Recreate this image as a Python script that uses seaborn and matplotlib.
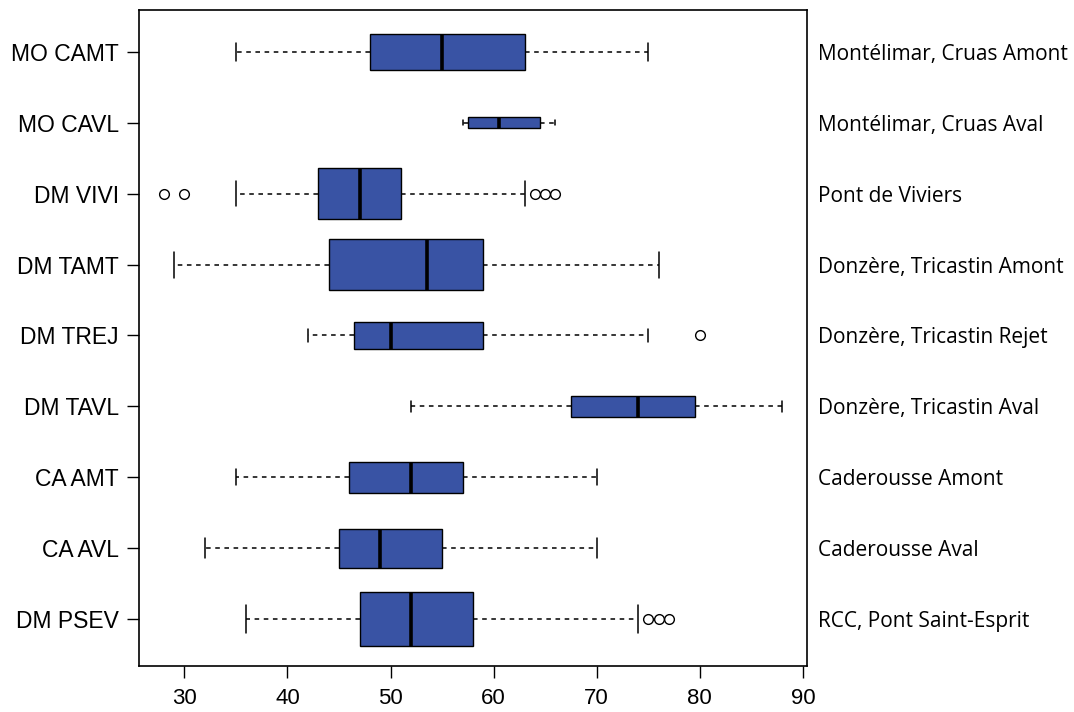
import matplotlib
matplotlib.use("Agg")
import matplotlib.pyplot as plt
import seaborn as sns

codes = ["MO CAMT", "MO CAVL", "DM VIVI", "DM TAMT", "DM TREJ",
         "DM TAVL", "CA AMT", "CA AVL", "DM PSEV"]
sites = ["Montélimar, Cruas Amont", "Montélimar, Cruas Aval", "Pont de Viviers",
         "Donzère, Tricastin Amont", "Donzère, Tricastin Rejet",
         "Donzère, Tricastin Aval", "Caderousse Amont", "Caderousse Aval",
         "RCC, Pont Saint-Esprit"]
whisker_low = [35, 57, 35, 29, 42, 52, 35, 32, 36]
q1 = [48, 57.5, 43, 44, 46.5, 67.5, 46, 45, 47]
median = [55, 60.5, 47, 53.5, 50, 74, 52, 49, 52]
q3 = [63, 64.5, 51, 59, 59, 79.5, 57, 55, 58]
whisker_high = [75, 66, 63, 76, 75, 88, 70, 70, 74]
outliers = [[], [], [28, 30, 64, 65, 66], [], [80], [], [], [], [75, 76, 77]]
xticks = [30, 40, 50, 60, 70, 80, 90]

# box heights (varwidth-like), fraction of row spacing
box_w = [0.51, 0.15, 0.72, 0.73, 0.385, 0.296, 0.437, 0.553, 0.765]


def main():
    sns.set_style("ticks")
    plt.rcParams['font.family'] = ['Liberation Sans', 'DejaVu Sans']

    fig, ax = plt.subplots(figsize=(10.74, 7.12), dpi=100)
    fig.subplots_adjust(left=0.1294, right=0.7514, top=0.986, bottom=0.0646)

    stats = []
    for i in range(len(codes)):
        stats.append({
            "label": codes[i],
            "whislo": whisker_low[i], "q1": q1[i], "med": median[i],
            "q3": q3[i], "whishi": whisker_high[i], "fliers": outliers[i],
        })

    ax.bxp(stats, positions=range(len(codes)), orientation="horizontal",
           widths=box_w, capwidths=[w / 2 for w in box_w],
           patch_artist=True, showfliers=True,
           boxprops=dict(facecolor="#3953a4", edgecolor="black", linewidth=1.0),
           medianprops=dict(color="black", linewidth=2.6, solid_capstyle="butt"),
           whiskerprops=dict(color="black", linewidth=1.1, linestyle=(0, (3, 3))),
           capprops=dict(color="black", linewidth=1.1),
           flierprops=dict(marker="o", markerfacecolor="none",
                           markeredgecolor="black", markersize=7,
                           markeredgewidth=1.0))

    ax.set_xlim(25.6, 90.4)
    ax.set_ylim(8.663, -0.592)
    ax.set_xticks(xticks)
    ax.set_yticks(range(len(codes)), codes)
    for s in ax.spines.values():
        s.set_visible(True)
        s.set_color("black")
        s.set_linewidth(1.2)
    ax.tick_params(axis="x", length=8.5, width=1.0, pad=7, labelsize=16,
                   colors="black")
    ax.tick_params(axis="y", length=8.5, width=1.0, pad=6, labelsize=16.5,
                   colors="black")

    ax2 = ax.twinx()
    ax2.set_ylim(ax.get_ylim())
    ax2.set_yticks(range(len(sites)), sites)
    ax2.tick_params(axis="y", length=0, pad=8, labelsize=15, colors="black")
    for lbl in ax2.get_yticklabels():
        lbl.set_fontfamily(["Open Sans", "DejaVu Sans"])
    for s in ax2.spines.values():
        s.set_visible(False)

    fig.savefig("out.png", dpi=100)
    plt.close(fig)


if __name__ == "__main__":
    main()
